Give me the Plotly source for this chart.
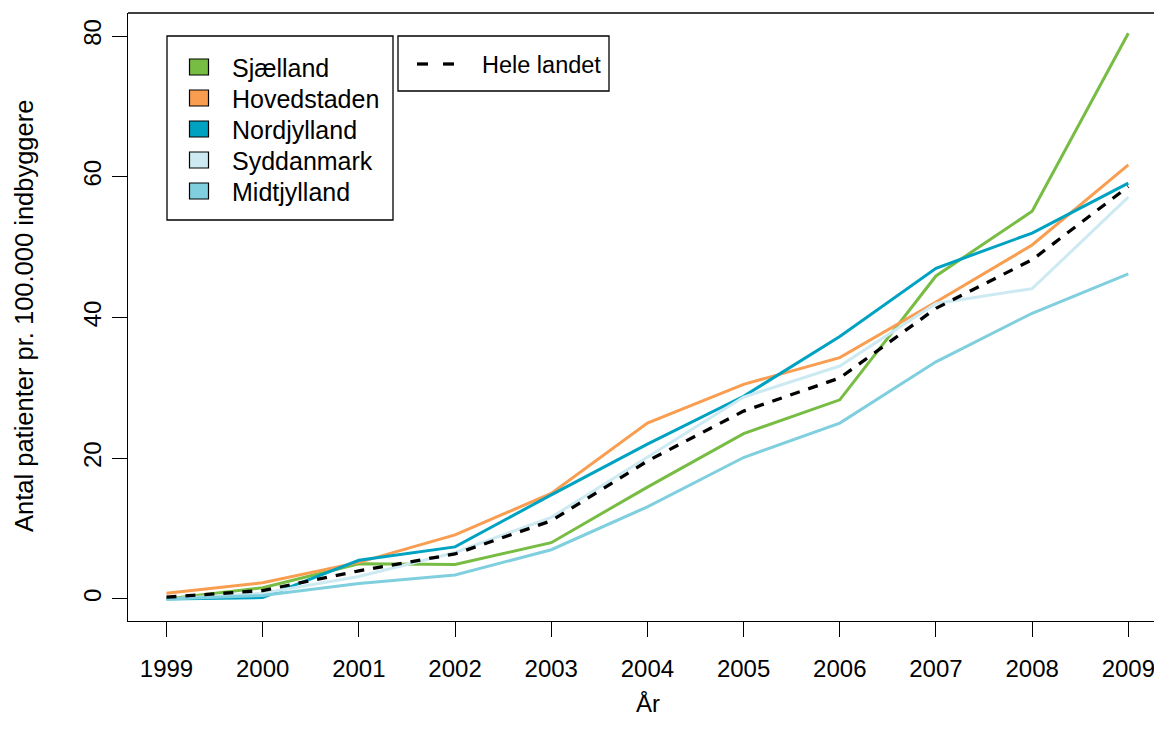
import plotly.graph_objects as go

years = [1999, 2000, 2001, 2002, 2003, 2004, 2005, 2006, 2007, 2008, 2009]
sjaelland = [0.0, 1.6, 5.0, 4.9, 8.0, 15.9, 23.5, 28.3, 45.9, 55.1, 80.4]
hovedstaden = [0.8, 2.3, 5.2, 9.1, 15.0, 25.0, 30.5, 34.3, 42.2, 50.3, 61.7]
nordjylland = [0.0, 0.2, 5.5, 7.4, 14.8, 22.0, 28.8, 37.3, 47.0, 52.0, 59.1]
syddanmark = [0.0, 0.8, 3.2, 6.6, 11.6, 20.2, 28.7, 33.1, 42.0, 44.1, 57.1]
midtjylland = [0.0, 0.5, 2.2, 3.4, 7.0, 13.1, 20.1, 25.0, 33.7, 40.6, 46.2]
hele_landet = [0.25, 1.2, 4.0, 6.4, 11.1, 19.6, 26.7, 31.4, 41.3, 48.2, 58.6]

region_names = ["Sjælland", "Hovedstaden", "Nordjylland", "Syddanmark", "Midtjylland"]
region_values = [sjaelland, hovedstaden, nordjylland, syddanmark, midtjylland]
region_colors = ["#77BC43", "#F99D50", "#00A2C2", "#CDEAF2", "#7FCFDE"]
y_ticks = [0, 20, 40, 60, 80]

OFF = 8  # page body margin offset
W, H = 1162 - OFF, 740 - OFF
L, R_, T = 128 - OFF, 0, 13 - OFF
B = H - (621 - OFF)
pw, ph = W - L - R_, H - T - B
FONT = "Liberation Sans, Arial, sans-serif"
FS = 24

def px_x(px):
    return (px - OFF - L) / pw

def px_y(py):
    return (H - B - (py - OFF)) / ph

fig = go.Figure()
for name, vals, col in zip(region_names, region_values, region_colors):
    fig.add_trace(go.Scatter(x=years, y=vals, mode="lines", name=name,
                             line=dict(color=col, width=3), showlegend=False))
fig.add_trace(go.Scatter(x=years, y=hele_landet, mode="lines", name="Hele landet",
                         line=dict(color="black", width=3.3, dash="10px,9px"),
                         showlegend=False))

shapes = []
annotations = []
# top border of plot box
shapes.append(dict(type="line", xref="paper", yref="paper", x0=0, x1=1.05, y0=1, y1=1,
                   line=dict(color="black", width=1.3)))

# legend 1
shapes.append(dict(type="rect", xref="paper", yref="paper",
                   x0=px_x(167), x1=px_x(393), y0=px_y(36), y1=px_y(220),
                   line=dict(color="black", width=1.3), fillcolor="white"))
row_y = [67, 98, 129, 160, 191]
for name, col, ry in zip(region_names, region_colors, row_y):
    shapes.append(dict(type="rect", xref="paper", yref="paper",
                       x0=px_x(189.5), x1=px_x(208.5), y0=px_y(ry - 8), y1=px_y(ry + 8),
                       line=dict(color="black", width=1.2), fillcolor=col))
    annotations.append(dict(text=name, xref="paper", yref="paper", x=px_x(230), y=px_y(ry + 1),
                            xanchor="left", yanchor="middle", showarrow=False,
                            font=dict(family=FONT, size=FS + 1, color="black")))

# legend 2
shapes.append(dict(type="rect", xref="paper", yref="paper",
                   x0=px_x(398), x1=px_x(609), y0=px_y(36), y1=px_y(91),
                   line=dict(color="black", width=1.3), fillcolor="white"))
for x0, x1 in [(417, 428), (443, 454)]:
    shapes.append(dict(type="line", xref="paper", yref="paper",
                       x0=px_x(x0), x1=px_x(x1), y0=px_y(64), y1=px_y(64),
                       line=dict(color="black", width=3.3)))
annotations.append(dict(text="Hele landet", xref="paper", yref="paper", x=px_x(480), y=px_y(65),
                        xanchor="left", yanchor="middle", showarrow=False,
                        font=dict(family=FONT, size=FS - 0.5, color="black")))

# axis titles
annotations.append(dict(text="År", xref="paper", yref="paper", x=px_x(648), y=px_y(703),
                        xanchor="center", yanchor="middle", showarrow=False,
                        font=dict(family=FONT, size=FS, color="black")))
annotations.append(dict(text="Antal patienter pr. 100.000 indbyggere", xref="paper", yref="paper",
                        x=px_x(24), y=px_y(316), xanchor="center", yanchor="middle",
                        textangle=-90, showarrow=False,
                        font=dict(family=FONT, size=25.5, color="black")))

fig.update_layout(
    width=W, height=H, autosize=False,
    margin=dict(l=L, r=R_, t=T, b=B, pad=0),
    plot_bgcolor="white", paper_bgcolor="white",
    font=dict(family=FONT, size=FS, color="black"),
    shapes=shapes, annotations=annotations,
    xaxis=dict(range=[1998.6, 2009.35], tickmode="array", tickvals=years,
               ticktext=[str(y) for y in years], showgrid=False, zeroline=False,
               showline=True, linecolor="black", linewidth=1.3,
               ticks="outside", ticklen=15, tickwidth=1.3, tickcolor="black",
               ticklabelstandoff=11,
               tickfont=dict(family=FONT, size=FS, color="black")),
    yaxis=dict(range=[-3.13, 83.27], tickmode="array", tickvals=y_ticks,
               ticktext=[str(v) for v in y_ticks], showgrid=False, zeroline=False,
               showline=True, linecolor="black", linewidth=1.3,
               ticks="outside", ticklen=15, tickwidth=1.3, tickcolor="black",
               tickangle=-90, ticklabelstandoff=1,
               tickfont=dict(family=FONT, size=FS, color="black")),
)

fig.write_html("out.html")
